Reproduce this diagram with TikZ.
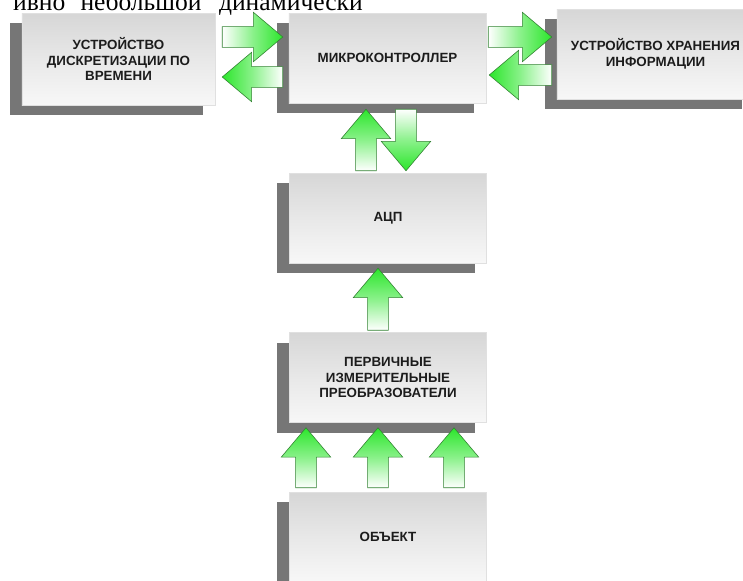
\documentclass[tikz,border=0pt]{standalone}
\usepackage{fontspec}
\newfontfamily\blokfont{Liberation Sans}
\newfontfamily\tekstfont{Liberation Serif}
\usetikzlibrary{calc,shadows}

\definecolor{tenj}{RGB}{118,118,118}
\definecolor{zelen}{RGB}{44,230,44}
\definecolor{zelenkraj}{RGB}{50,130,50}
\definecolor{bloktekst}{RGB}{28,28,28}

\pgfdeclareverticalshading{blokshade}{100bp}{color(0bp)=(black!32); color(6bp)=(black!20); color(25bp)=(black!3); color(50bp)=(black!9); color(75bp)=(black!16); color(100bp)=(black!28)}

% block arrow: #1 shading, #2 tail, #3 tip
\newcommand{\strelka}[3]{%
	\coordinate (st) at (#2);
	\coordinate (en) at (#3);
	\coordinate (sh) at ($(en)!0.88cm!(st)$);
	\path[strelkastil,#1] ($(st)!0.31cm!90:(en)$) -- ($(sh)!0.31cm!90:(en)$) -- ($(sh)!0.74cm!90:(en)$) -- (en)
		-- ($(sh)!0.74cm!-90:(en)$) -- ($(sh)!0.31cm!-90:(en)$) -- ($(st)!0.31cm!-90:(en)$) -- cycle;}

\begin{document}
\begin{tikzpicture}[x=0.03cm,y=-0.03cm,
	blok/.style={shade, shading=blokshade, draw=black!12, line width=0.4pt,
		minimum width=5.91cm, minimum height=2.7cm, inner sep=0pt, align=center,
		text=bloktekst, font={\blokfont\bfseries\fontsize{11.4}{13.6}\selectfont},
		drop shadow={shadow xshift=-0.36cm, shadow yshift=-0.3cm, fill=tenj, opacity=1}},
	strelkastil/.style={draw=zelenkraj, line width=0.5pt, line join=miter},
	vpravo/.style={left color=white, right color=zelen, middle color=zelen!55!white},
	vlevo/.style={left color=zelen, right color=white, middle color=zelen!55!white},
	vverh/.style={top color=zelen, bottom color=white, middle color=zelen!55!white},
	vniz/.style={top color=white, bottom color=zelen, middle color=zelen!55!white}]
	\useasboundingbox (0,0) rectangle (743,581);
	
	% cut line of the text above
	\node[font={\tekstfont\fontsize{21.8}{26}\selectfont}, anchor=base east, inner sep=0pt] (verh) at (363,10)
		{ивно\hspace{13pt}небольшой\hspace{15pt}динамически};
	
	% blocks
	\node[blok, minimum width=5.79cm, minimum height=2.76cm] (disc) at (118.5,59) {УСТРОЙСТВО\\ДИСКРЕТИЗАЦИИ ПО\\ВРЕМЕНИ};
	\node[blok] (mc) at (387.5,58) {МИКРОКОНТРОЛЛЕР};
	\node[blok] (store) at (655.5,54) {УСТРОЙСТВО ХРАНЕНИЯ\\ИНФОРМАЦИИ};
	\node[blok] (adc) at (388,218) {АЦП};
	\node[blok] (sens) at (388,377.5) {ПЕРВИЧНЫЕ\\ИЗМЕРИТЕЛЬНЫЕ\\ПРЕОБРАЗОВАТЕЛИ};
	\node[blok] (obj) at (388,537) {ОБЪЕКТ};
	
	% arrows
	\strelka{vpravo}{$(disc.east)+(7,-22)$}{$(mc.west)+(-6,-21)$}
	\strelka{vlevo}{$(mc.west)+(-6,19)$}{$(disc.east)+(7,18)$}
	\strelka{vpravo}{$(mc.east)+(2,-21)$}{$(store.west)+(-5,-17)$}
	\strelka{vlevo}{$(store.west)+(-5,21)$}{$(mc.east)+(3,17)$}
	\strelka{vverh}{$(adc.north)+(-22,-2)$}{$(mc.south)+(-21.5,6)$}
	\strelka{vniz}{$(mc.south)+(18.5,6)$}{$(adc.north)+(18,-2)$}
	\strelka{vverh}{$(sens.north)+(-10,-2)$}{$(adc.south)+(-10,5)$}
	\foreach \dx in {-82,-10,66}
		\strelka{vverh}{$(obj.north)+(\dx,-4)$}{$(sens.south)+(\dx,5)$};
\end{tikzpicture}
\end{document}
